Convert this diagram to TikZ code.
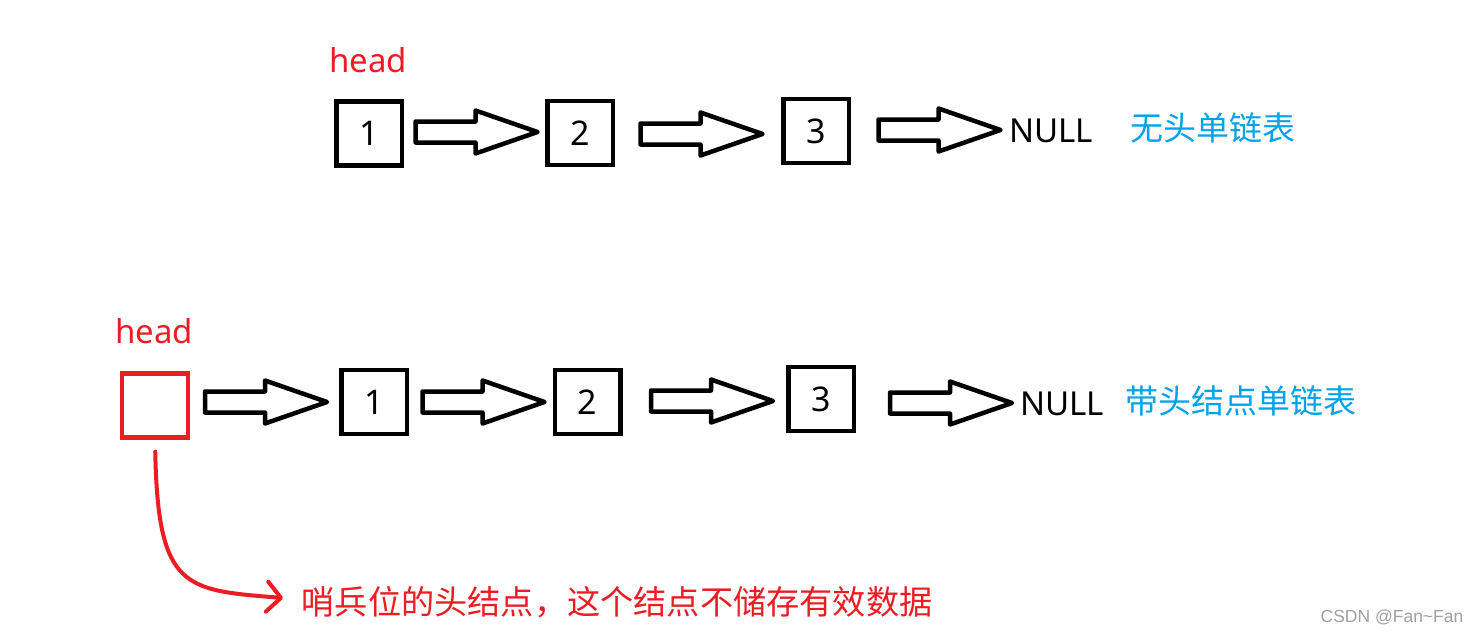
\documentclass[tikz,border=0pt]{standalone}
\usepackage{fontspec}
\setmainfont{Noto Sans}
\newfontfamily\cjk{Noto Sans CJK SC}
\newfontfamily\wmfont{Liberation Sans}
\usetikzlibrary{arrows.meta}
\definecolor{pred}{RGB}{237,28,36}
\definecolor{pblue}{RGB}{0,162,232}
\definecolor{wmgray}{RGB}{160,160,160}
\begin{document}
\begin{tikzpicture}[x=1pt,y=-1pt,
  nodebox/.style={draw=black, line width=4.5pt, minimum width=65.5pt, minimum height=64pt, inner sep=0pt, font=\fontsize{34}{40}\selectfont},
  headbox/.style={nodebox, draw=pred, line width=4.3pt},
  arrowline/.style={draw=black, line width=4.5pt, line join=round, fill=white},
  headtext/.style={text=pred, inner sep=0pt, font=\fontsize{33}{40}\selectfont},
  nulltext/.style={inner sep=0pt, anchor=west, font=\fontsize{33}{40}\selectfont},
  bluetext/.style={text=pblue, inner sep=0pt, font=\cjk\fontsize{33}{40}\selectfont},
  redtext/.style={text=pred, inner sep=0pt, font=\cjk\fontsize{33.2}{40}\selectfont},
  wmtext/.style={text=wmgray, inner sep=0pt, font=\wmfont\fontsize{17.5}{20}\selectfont},
  pointer/.style={draw=pred, line width=4pt, line cap=round, -{Straight Barb[length=14pt,width=30pt,round]}},
  blockarrow/.pic={\path[arrowline] (-61,-10.5) -- (-1,-10.5) -- (-1,-21.5) -- (61,0) -- (-1,21.5) -- (-1,10.5) -- (-61,10.5) -- cycle;}
]
\useasboundingbox[fill=white] (0,0) rectangle (1480,634);

% top row: list without head node
\node[headtext] (headA) at (368,60.5) {head};
\node[nodebox] (a1) at (369,133.5) {1};
\pic at (476.5,132) {blockarrow};
\node[nodebox] (a2) at (580,133) {2};
\pic at (701.5,134) {blockarrow};
\node[nodebox] (a3) at (816,131) {3};
\pic at (939.5,130) {blockarrow};
\node[nulltext] (anull) at (1009,130.5) {NULL};
\node[bluetext] (alabel) at (1213,128) {无头单链表};

% bottom row: list with sentinel head node
\node[headtext] (headB) at (154,331) {head};
\node[headbox] (h0) at (155,405.5) {};
\pic at (266,402) {blockarrow};
\node[nodebox] (b1) at (374,402) {1};
\pic at (483.5,402) {blockarrow};
\node[nodebox] (b2) at (587.5,402) {2};
\pic at (712,401) {blockarrow};
\node[nodebox] (b3) at (821,399) {3};
\pic at (951,403) {blockarrow};
\node[nulltext] (bnull) at (1020,404) {NULL};
\node[bluetext] (blabel) at (1241,401) {带头结点单链表};

% annotation
\node[redtext] (note) at (617,602) {哨兵位的头结点，这个结点不储存有效数据};
\coordinate (cend) at (283,598);
\draw[pointer, shorten <=12pt] (h0.south) .. controls (158,590) and (185,590) .. (cend);

\node[wmtext] (wm) at (1392,617) {CSDN @Fan\textasciitilde Fan};
\end{tikzpicture}
\end{document}
